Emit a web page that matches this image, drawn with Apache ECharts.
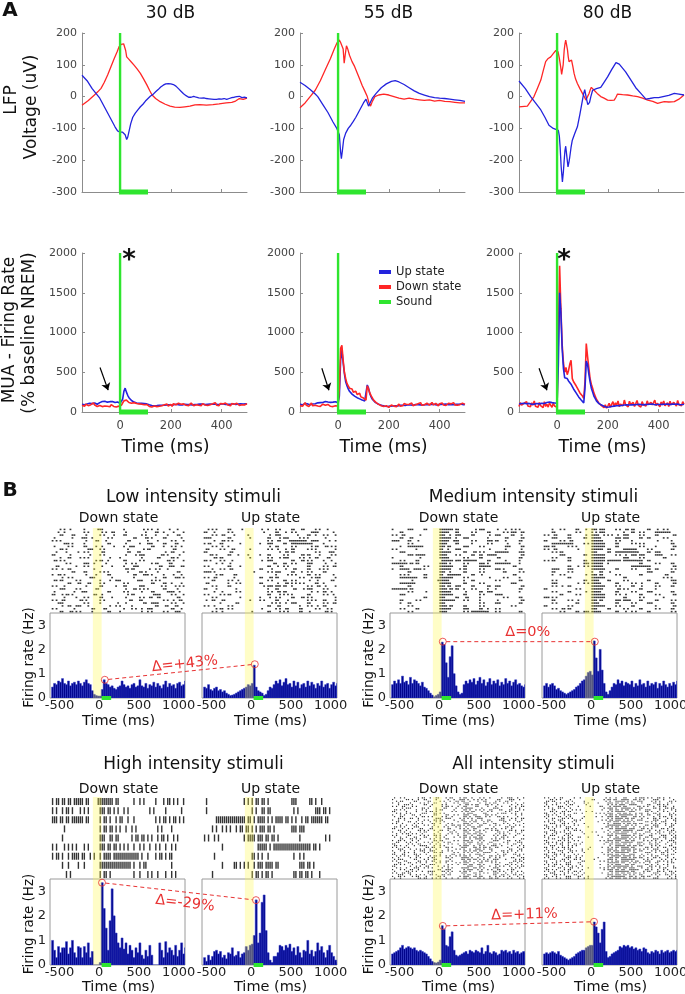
<!DOCTYPE html>
<html><head><meta charset="utf-8">
<script src="https://cdn.jsdelivr.net/npm/echarts@6/dist/echarts.min.js"></script>
<style>html,body{margin:0;padding:0;background:#fff}#c{width:685px;height:994px}</style>
</head><body><div id="c"></div><script>
// ---------- Panel A data ----------
const lfp30Up=[[-150,67],[-130,50],[-110,25],[-95,10],[-80,-5],[-60,-35],[-40,-65],[-20,-95],[-10,-108],[0,-112],[5,-113],[10,-112],[16,-110],[20,-120],[26,-135],[30,-128],[35,-110],[42,-85],[50,-65],[60,-52],[70,-42],[80,-32],[90,-24],[100,-14],[110,-6],[120,2],[130,7],[140,15],[150,22],[160,30],[170,36],[180,40],[190,41],[200,40],[210,38],[220,33],[230,25],[240,17],[250,9],[260,3],[270,-2],[280,-2],[290,1],[300,-2],[310,-4],[320,-5],[330,-4],[340,-6],[350,-7],[360,-8],[370,-9],[380,-9],[390,-7],[400,-8],[410,-6],[420,-9],[430,-6],[440,-3],[450,-2],[460,0],[470,1],[480,-3],[490,-2],[500,-4]];
const lfp30Down=[[-150,-27],[-125,-12],[-101,5],[-88,15],[-75,26],[-62,45],[-49,68],[-36,94],[-23,120],[-12,140],[-4,157],[4,164],[9,167],[14,166],[18,164],[22,145],[26,125],[30,120],[35,117],[45,108],[55,99],[67,87],[80,73],[93,55],[106,36],[116,20],[126,5],[140,-6],[158,-16],[178,-24],[197,-30],[215,-33],[236,-34],[255,-32],[275,-30],[295,-26],[314,-25],[340,-27],[366,-25],[390,-23],[418,-20],[440,-18],[455,-14],[470,-6],[485,-9],[500,-5]];
const lfp55Up=[[-150,45],[-130,35],[-110,22],[-90,8],[-80,0],[-60,-25],[-40,-50],[-20,-80],[-5,-100],[0,-103],[5,-120],[10,-175],[13,-195],[17,-170],[22,-135],[30,-115],[40,-100],[50,-90],[60,-78],[70,-65],[80,-50],[90,-35],[100,-20],[110,-8],[115,-12],[120,-30],[125,-25],[135,-5],[150,10],[170,28],[190,40],[210,48],[225,50],[240,46],[260,38],[280,28],[300,18],[320,10],[340,5],[360,0],[380,-3],[400,-5],[420,-6],[440,-8],[460,-10],[480,-12],[500,-15]];
const lfp55Down=[[-150,-35],[-130,-20],[-110,0],[-90,20],[-70,50],[-50,85],[-30,120],[-15,150],[-5,168],[0,172],[5,178],[10,170],[15,165],[20,150],[24,105],[28,130],[33,160],[38,150],[45,130],[55,110],[65,95],[75,75],[85,55],[95,35],[105,18],[115,0],[122,-20],[128,-30],[135,-15],[145,0],[160,5],[180,8],[200,5],[220,0],[240,-5],[260,-8],[280,-5],[300,-8],[320,-10],[340,-12],[360,-10],[380,-14],[400,-12],[420,-15],[440,-16],[460,-18],[480,-20],[500,-20]];
const lfp80Up=[[-150,49],[-125,25],[-104,0],[-85,-20],[-64,-42],[-48,-65],[-32,-90],[-15,-100],[-5,-103],[5,-106],[9,-125],[12,-158],[16,-220],[21,-268],[25,-235],[28,-200],[31,-170],[34,-156],[38,-185],[43,-221],[47,-205],[50,-190],[55,-160],[60,-137],[70,-115],[80,-95],[90,-55],[100,-11],[105,10],[109,22],[113,5],[117,-11],[121,-25],[124,-30],[128,-18],[133,0],[140,20],[155,25],[172,29],[185,45],[199,62],[215,85],[232,107],[245,102],[251,99],[270,78],[291,52],[310,28],[330,10],[350,-8],[365,-6],[383,-3],[400,-3],[422,1],[440,4],[462,10],[480,8],[500,5]];
const lfp80Down=[[-150,-32],[-117,-30],[-104,-15],[-91,0],[-78,25],[-64,52],[-55,80],[-45,110],[-35,120],[-25,125],[-15,135],[-5,145],[4,141],[9,120],[14,94],[18,70],[21,65],[24,100],[28,146],[31,165],[34,178],[37,165],[41,147],[44,125],[47,110],[52,112],[57,115],[62,95],[67,73],[73,55],[80,41],[90,25],[100,10],[107,0],[113,-11],[120,0],[126,10],[131,22],[135,29],[140,25],[146,20],[158,10],[172,0],[185,-5],[199,-11],[212,-12],[225,-11],[232,-2],[238,8],[258,6],[278,5],[298,2],[317,0],[337,-5],[357,-11],[377,-15],[396,-21],[410,-18],[422,-16],[440,-17],[462,-16],[480,-8],[500,5]];

// MUA: one value every 5 ms starting at -150 ms
const muaT0=-150, muaDt=5;
const mua30Up=[98,104,92,108,101,96,110,99,105,94, 112,103,97,108,118,126,132,121,135,128, 124,138,130,122,133,127,119,131,125,120,
 110,105,160,260,300,250,210,180,160,145, 130,125,118,112,115,108,104,110,100,106, 98,102,94,90,86,82,88,79,84,80,
 86,83,78,85,81,87,84,90,86,92, 88,85,91,94,89,96,92,88,95,90, 93,97,91,95,99,93,96,90,98,94,
 100,96,92,99,95,101,97,93,100,96, 94,99,103,97,95,100,98,94,101,97, 99,104,98,95,100,97,102,96,99,103,
 98,95,101,99,96,102,98,100,97,103, 99];
const mua30Down=[85,110,72,98,120,80,105,92,76,115, 88,100,70,95,82,95,68,90,75,100, 72,85,66,92,78,70,88,64,80,74,
 70,85,110,140,160,150,135,120,125,110, 105,118,95,108,90,102,85,98,80,92, 78,95,72,70,88,62,80,75,92,68,
 85,72,95,78,66,90,82,100,74,88, 96,70,105,84,92,78,110,86,98,75, 102,90,84,108,80,95,112,88,78,100,
 92,115,85,98,80,106,94,88,110,82, 100,92,76,104,96,118,86,94,80,108, 90,102,84,112,96,88,100,78,106,92,
 98,86,110,94,82,104,90,100,88,96, 106];
const mua55Up=[96,104,90,100,108,94,102,98,92,106, 100,95,103,110,115,122,118,128,120,125, 132,119,126,130,121,127,124,118,129,122,
 115,200,650,780,620,480,380,330,290,260, 240,225,215,200,190,180,170,165,160,150, 145,140,160,340,300,230,190,160,140,125,
 115,105,98,92,85,80,76,72,75,70, 78,74,80,76,72,79,83,77,81,85, 80,84,88,82,86,90,84,88,92,86,
 90,94,88,92,96,90,94,88,95,91, 97,93,89,96,92,98,94,90,97,93, 99,95,91,98,94,100,96,92,99,95,
 97,93,100,96,94,98,95,99,97,93, 96];
const mua55Down=[80,105,72,95,118,84,100,70,92,112, 78,98,86,104,76,92,70,88,98,74, 85,66,95,80,72,90,68,84,78,70,
 75,300,800,840,650,500,420,360,330,300, 280,290,250,235,260,220,210,235,190,200, 175,185,150,330,290,240,205,185,150,140,
 118,110,96,90,78,84,70,62,80,70, 58,76,88,66,74,92,68,84,100,72, 90,78,106,82,94,70,98,86,112,80,
 96,90,76,104,88,118,84,98,92,80, 110,94,86,102,120,90,84,108,96,78, 104,92,114,88,100,82,96,110,86,102,
 94,118,90,98,84,106,92,100,112,88, 96];
const mua80Up=[100,92,106,98,110,95,103,90,108,100, 96,112,99,104,108,115,102,118,110,122, 106,116,120,112,125,110,118,106,114,102,
 110,600,1500,1250,800,550,430,410,420,390, 375,350,320,290,265,240,215,190,170,150, 130,115,300,640,600,480,380,300,250,200,
 170,140,120,105,95,88,80,72,66,60, 58,62,66,70,68,74,72,78,76,80, 84,82,86,88,85,90,92,88,94,90,
 96,92,88,95,91,98,94,90,96,93, 99,95,92,98,94,100,96,92,99,95, 97,94,100,96,92,98,95,99,96,93,
 97,100,95,98,94,99,96,92,97,95, 98];
const mua80Down=[70,120,85,60,110,95,130,75,100,65, 115,88,140,72,95,60,120,80,105,55, 130,70,98,62,115,85,58,110,76,90,
 60,900,1840,1300,850,620,500,560,470,520, 600,650,420,380,400,330,300,280,240,220, 200,170,380,860,700,560,420,350,300,240,
 200,160,140,110,95,80,70,55,90,48, 75,110,60,95,130,70,115,85,140,68, 100,125,78,150,90,110,65,135,95,80,
 120,70,105,145,85,100,62,130,90,115, 75,140,95,70,120,88,105,150,80,110, 95,65,125,90,140,78,100,115,70,135,
 92,85,120,100,75,145,90,110,80,130, 95];

const soundLfp=[0,110];           // sound on / off (ms)
const arrowsMua=[[[-79,560],[-47,275]],[[-64,551],[-36,273]],[[-71,551],[-40,273]]];

// ---------- Panel B data ----------
const histStart=-600, histW=25;   // 25 ms bins
const bandRange=[-80,30];
const soundB=[30,150];
const histLowDown=[0.45,0.6,0.55,0.7,0.65,0.8,0.6,0.55,0.7,0.5,0.6,0.65,0.55,0.7,0.6,0.5,0.65,0.75,0.6,0.55,
 0.3,0.15,0.1,0.08, 0.08,0.35,0.75,0.6,
 0.55,0.45,0.5,0.4,0.35,0.45,0.5,0.7,0.55,0.45,0.5,0.4,0.55,0.6,0.45,0.5,0.75,0.5,0.45,0.6,0.4,0.55,0.5,0.65,0.45,0.6,0.5,0.4,0.55,0.7,0.45,0.6,0.5,0.55,0.4,0.6,0.65,0.5,0.55,0.7];
const histLowUp=[0.45,0.4,0.55,0.35,0.3,0.4,0.45,0.3,0.35,0.25,0.3,0.2,0.15,0.1,0.12,0.15,0.2,0.25,0.3,0.35,
 0.4,0.45,0.55,0.5, 0.6,1.35,0.45,0.3,
 0.25,0.2,0.1,0.15,0.3,0.45,0.4,0.55,0.7,0.6,0.75,0.5,0.65,0.8,0.55,0.6,0.45,0.7,0.5,0.65,0.4,0.55,0.6,0.45,0.7,0.5,0.65,0.55,0.4,0.6,0.5,0.7,0.45,0.55,0.6,0.4,0.55,0.65,0.5,0.6];
const histMedDown=[0.55,0.7,0.6,0.75,0.6,0.9,0.65,0.7,0.55,0.85,0.6,0.75,0.7,0.6,0.5,0.65,0.45,0.4,0.3,0.2,
 0.12,0.05,0.1,0.15, 0.25,2.3,2.2,1.45,0.85,1.7,2.15,1.0,0.5,0.25,0.15,0.2,
 0.55,0.7,0.6,0.75,0.65,0.8,0.55,0.7,0.85,0.6,0.75,0.5,0.65,0.8,0.55,0.7,0.6,0.75,0.5,0.65,0.55,0.8,0.6,0.7,0.5,0.65,0.75,0.55,0.6,0.5,0.45,0.55];
const histMedUp=[0.5,0.6,0.45,0.55,0.6,0.5,0.35,0.4,0.3,0.25,0.2,0.15,0.2,0.25,0.3,0.35,0.45,0.5,0.6,0.7,
 0.75,0.9,1.05,1.1, 0.95,2.35,1.65,1.1,2.0,1.15,0.6,0.25,0.15,0.3,
 0.45,0.6,0.55,0.75,0.6,0.7,0.5,0.65,0.6,0.55,0.7,0.45,0.6,0.5,0.75,0.55,0.6,0.45,0.7,0.5,0.6,0.55,0.65,0.4,0.6,0.5,0.7,0.55,0.45,0.6,0.5,0.65,0.55,0.7];
const histHighDown=[1.0,0.6,0.3,0.75,0.5,0.7,0.7,0.95,0.45,0.7,1.0,0.5,0.3,0.75,0.7,0.3,0.75,0.5,0.9,0.3,
 0.55,0,0,0, 0.1,3.35,2.3,1.5,0.6,1.8,3.1,2.0,1.3,0.9,0.7,1.1,
 0.65,0.9,0.45,0.8,0.6,0.3,0.7,0.5,0.9,0.4,0.25,0.6,0.35,0.8,0.4,0,0,0,0.9,0.6,0.3,0.95,0.5,0.7,0.6,0.4,0.8,0.35,0.6,0.9,0.45,0.7];
const histHighUp=[0.3,0.15,0.4,0.2,0.35,0.55,0.6,0.45,0.55,0.3,0.4,0.25,0.5,0.45,0.7,0.35,0.4,0.55,0.3,0.45,
 0.5,0.75,0.6,0.8, 0.85,1.2,2.65,0.9,1.3,2.55,2.85,1.4,0.5,0.2,0.1,0.35,
 0.35,0.5,0.8,0.75,0.6,0.8,0.7,0.85,0.55,0.7,0.4,0.75,0.5,0.3,0.6,0.55,1.0,0.45,0.6,0.35,0.55,0.9,0.6,0.75,0.5,0.3,0.6,0.8,0.5,0.35,0.2,0.1];
const histAllDown=[0.45,0.5,0.55,0.6,0.7,0.8,0.65,0.7,0.75,0.7,0.65,0.7,0.6,0.55,0.6,0.55,0.5,0.45,0.35,0.25,
 0.15,0.1,0.08,0.12, 0.2,1.6,1.45,0.8,0.75,1.15,1.35,0.6,0.4,0.35,0.4,0.45,
 0.5,0.55,0.45,0.6,0.55,0.5,0.6,0.55,0.5,0.7,0.45,0.55,0.8,0.5,0.45,0.55,0.5,0.4,0.45,0.6,0.55,0.6,0.5,0.55,0.45,0.6,0.5,0.55,0.45,0.5,0.55,0.5];
const histAllUp=[0.45,0.5,0.45,0.5,0.55,0.5,0.45,0.55,0.4,0.35,0.3,0.25,0.2,0.25,0.3,0.35,0.45,0.5,0.55,0.6,
 0.6,0.7,0.75,0.8, 0.8,1.75,1.55,1.3,0.9,1.45,1.75,0.55,0.3,0.35,0.45,0.5,
 0.55,0.6,0.75,0.7,0.8,0.75,0.8,0.7,0.75,0.65,0.7,0.6,0.65,0.55,0.7,0.65,0.5,0.45,0.55,0.5,0.6,0.55,0.45,0.6,0.5,0.55,0.6,0.5,0.55,0.6,0.55,0.6];

// peak markers [time ms, rate Hz] (down, up) and labels
const peakLow=[[70,0.75],[45,1.39]];
const peakMed=[[45,2.32],[45,2.32]];
const peakHigh=[[35,3.35],[60,2.64]];
const peakAll=[[45,1.59],[35,1.76]];
const deltaLabels=['Δ=+43%','Δ=0%','Δ=-29%','Δ=+11%'];

// rasters: one row per trial, each hex digit = 4 bins of 25 ms (from -600 ms)
const rasLowDown=["0a4081c00802a4110","1200a05304010c842","0c3040a10c0508219","4021c80a0061a0c04","a80043100300840a2","03a0800c0408e0c31","40a0c24109c0308a4","0d0038a00202c0060","2104a0600318004c2","c04010a0042e01a08","08c2a0042004060d1","6a0002c80c0a00342","0140e41004a02c180","3008a0420870031c6","a4c0040006c04a201","0030c0a8020d04018","9a00420c0063a0845","04a01c02004008c3a","6c0a0084e01c2a001","00c630a00a0030c84","a20040c08c0e0142a","0e0a0300046a80c10","4011c00c0a04303c8","c5a0064002c01e0a2","0208a0c2040a66018","a60340a0018c00a4c","1c00a08044033c0a2","04ce2004a0800c631","a0100c3008a4e00c4","0c6a080c2004a0a38"];
const rasLowUp=["2a0c10048a0c60a21","c40a00020c4a03c04","0a6102004e010c8a2","f00c0100c2e0a8040","046a0000a61ff3c12","b0c02008e0cffe080","0a4800004c0a02c6a","60a30100a44c0a803","c0060000026c00a1c","1a0c4208c0a06c20a","06c00100a2e0a4c30","d0a20004e00c6a088","0244000018ca0e042","a00c2000c4a00c0a6","08a6000c20460c2a1","f4000040ae0c4a0c0","02c18000082a0ca04","a601000c6c00a2e02","0c0a4000a0ca0440c","6008a00c046aa0c80","0a0c0002eec80a642","c20080008c062e0a0","0440a000a6c0024c8","a0ac0000c2a80c0a4","0a0020084a0c6a002","4c60010a0c200a8c2","0080c0002a4e0c0a6","a40a0000c6008a4c0","02ca00040a60c0a28","0a400080c2a0c4068"];
const rasMedDown=["80e0c0fec02e044a8","0c0000f8c0a0c0ae6","a60200e4e0c04e0c4","0c6000fc8e0080606","f0c400f9c0a0ec40c","00a000f0c080a0208","08ff00ec0e0a00706","a00800c8e00040404","0e0000fc0c6a0fe0e","00ef80f0a0ccf8006","800200f80a0c0600c","0a0c007eefe0c0408","ff6c00f40a0e8ff08","0c00a0fe0c0fc0060","8f9e80fc2c0a0e80c","00c000e40c0a00c0a","0a80c0cfe0c400060","0ff8c0fe0a0040a08","002001f808c00a00c","0ff000fc0c0a000e0","00c000ece0c0ce006","ff6000f6c8a08800c","00a040fc040ce0008","0e0000fe0c0a0f000","0000c0e0c60800a0c","0c0a00ff0a0804006","08c000e0000a0e00c","00a000f60c0a000a0","0a0c00fc0e0c8a000","00a000f00aff8a00c"];
const rasMedUp=["08a0c4ee0a6c0c4a0","0c00a0ae008ca0ff0","a60c04f2a4e0a0c06","0e0c0cf80ee0cc0a0","c0a600fc0a0800408","0ffe0afe0c0aa000c","ec0a80fe0c00a0806","a60040fcc0fe0a00c","0ac000e0cfff0ce00","00e00cfe0a4ee0f0a","0a0c00fe00e0a00c0","ac0c0cfefeffcc000","00000efc8000c0a0c","000c4afc000ffc006","0f0e00fe0c0a0cc0a","0c0a008c40000e00c","08a004ec0a00c0060","000c00fe00c0000a8","0a000cf0c0a00c00e","0e004af80c0a40c06","0a4c00fe0a0c40a0c","c000a0fc06a0c0800","0a0c04f80c0a0e00c","00c0a0fe0a40c0a06","ea0000fe00c0a0080","0c0a40ec0ef0c0c0a","0a00c0f00c0a0e00c","c00a00fe0a0c00806","0a6c00e0c0a0c0a0c","00a0cef80c4a0c00a"];
const rasHighDown=["b6df61fec04a08b52","a5a2a0ed4a0050405","edbf60b4b2400ad6a","020000b6a4a005080","040000e6c0b6a5a50","a2a8a0edaa4a4a4a0","b4bd94bdfff48b580","048480ffff4b00080","014000b40048a44a0"];
const rasHighUp=["40000ab6800e06900","400000a6c00500ed0","03fffb5eaf6a5bf60","0a54b6aed00ee0000","a5000bddb40080050","0040001f5ffffda00","040000d48004a0000","0041aa5dec00ed000","080000b5a006da200"];
const rasAllDown=["4a0593162c8a41392","81a4c2093a55061c8","2c1830a4d9130a681","9042a6114e0958a23","13a0c85026b1a4094","a628105a4c3089126","05c1a23097841c0a9","6a0942c10d2a6318a","c1085a0296c4a0531","2941c6a00b8305ca4","8a3206194e61a8025","4c09a8520d3946a10","1a64039c2a9c018a6","9204a6c118a4c3924","30c912a04d62a0c18","a4150c8a0e9318a42","0928a4136b0c4a129","6a1c0928a4d8106c3","c4a3180c2a61a9480","1906a4c90d4a2c1a6","8a42c1068e3906a24","25a9048a4b6c0a918","a0c2a6904c9a14c23","4918c2a12d6c09a41","0c6a1498093c2a806","9a2406c14e8a1c329","3148a92c0b9460a1c","c0a6128a4d1c9a264","6913c4a02e4a3908a","a2806c9a1c6b4c213","1c4a9208a93a6018c","8a139c4a0d6c21a94","4290a6c14a93c8a21","c61a4083293a04c6a","2a8c1694ad0c6a819","904a2c1a1e924a0c6","5c18a6041b6a9c42a","a3064c9a0d15a806c","18ca4290ae4c2a193","6a219c0a4d9a0c6a4","c04a6128038c4a916","291ca84a1e6a1c0a8","8a64019c0b94a62c1","41a93c6a2d0c1a894","a6c028141c6a9c4a2","1c4a9a6c0b2819a6c","9a2c41a02e6c4a913","4806ca924d1a6c28a"];
const rasAllUp=["a4c1200148c2ea691","1a8400c2d9e6a1c84","6c1a08014fa9c2a1a","c2a90a10ed6c41a29","4a160400ab9e0c6a1","a1c8410c5ec1a92c4","29a40002e9f4c1a6c","8c12a0046d6a9c28a","1a6c0480af9c1a4a3","c4a1902ae6d2c9a14","6a2c00016bfa4c61a","a1940824edc6a12c9","4c6a1000af6c49a2a","29c1a0056ea9c1c46","a4a28010ddf41a9c2","1c6908029eb6c2a4a","c2a14000fe6a19c4c","6a9c0201adc4a2c19","a41a80046fdc6a1a4","1c29a0008ef9c4a2c","c6a410a25dea1c69a","4a1c0800afc6a2a14","9c2a0010e9f4c61ca","a14c62044dea9a2c6","2c6a00009fd4a1c4a","c1a9400aee6c2a91c","6a4c1001adf9c4a26","a2c9a0026ed1a6c4a","1c4a80004fb6c2a19","c96a0104adec1a4c6","4a2c1200e9f6a9c2a","a1c69000ddb4c2a64","2c4a0804afe61c9a2","c6a14002ed9c4a1ac","6a2c9000bef4a2c61","a41ca0106dd6c9a24","1c69a040e9fc2a14a","c2a4180aadeb1c6a9","4a1c6000fd96a4c2c","a69c2008ae6c1a4a1","2c4a9000dfe9c6a24","c1a6420ab6dc4a2c6","6a2c1002ed9f1a4a1","a4c9a0006fec2c69a","1c2a4804adb6a1c4c","c6a19000eed4c2a6a","4a1c6200bf9a6c412","a29c4a016ed6a1c2a"];

// ---------- build ----------
const FONT='DejaVu Sans', GRAY='#8c8c8c';
const RED='#ff2626', BLUE='#2323dd', GREEN='#2fe52f', DRED='#e83232';
const plain=v=>String(v);
const grids=[], xAxis=[], yAxis=[], series=[], texts=[];
function addGrid(r, xa, ya, extra){
  const i=grids.length;
  grids.push(Object.assign({left:r[0], top:r[1], width:r[2], height:r[3], containLabel:false, outerBoundsMode:'none', show:false}, extra||{}));
  xAxis.push(Object.assign({gridIndex:i}, xa));
  yAxis.push(Object.assign({gridIndex:i}, ya));
  return i;
}
function txt(t, x, y, size, opt){
  opt=opt||{};
  texts.push({type:'text', x:x, y:y, rotation:opt.rot||0, z:50, silent:true,
    style:{text:t, fontSize:size, fontFamily:FONT, fontWeight:opt.bold?'bold':'normal', fill:opt.color||'#111', align:'center', verticalAlign:'middle'}});
}
function aX(labels){
  return {type:'value', min:-150, max:500,
    axisLine:{show:true, onZero:false, lineStyle:{color:GRAY, width:1}},
    axisTick:{show:true, inside:true, length:3, customValues:[0,200,400], lineStyle:{color:GRAY}},
    axisLabel:{show:labels, customValues:[0,200,400], formatter:plain, color:'#444', fontSize:11.5, fontFamily:FONT, margin:8},
    splitLine:{show:false}};
}
function aY(min,max,interval){
  return {type:'value', min:min, max:max, interval:interval,
    axisLine:{show:true, onZero:false, lineStyle:{color:GRAY, width:1}},
    axisTick:{show:true, inside:true, length:3, lineStyle:{color:GRAY}},
    axisLabel:{color:'#444', fontSize:11, fontFamily:FONT, margin:5, formatter:plain},
    splitLine:{show:false}};
}
function lineS(gi, name, data, color, width, z, extra){
  return Object.assign({type:'line', name:name, xAxisIndex:gi, yAxisIndex:gi, data:data, symbol:'none', showSymbol:false,
    lineStyle:{color:color, width:width}, itemStyle:{color:color}, z:z, silent:true, animation:false}, extra||{});
}
const aCols=[82,300,519], aW=165;
const lfpSets=[[lfp30Up,lfp30Down],[lfp55Up,lfp55Down],[lfp80Up,lfp80Down]];
const muaSets=[[mua30Up,mua30Down],[mua55Up,mua55Down],[mua80Up,mua80Down]];
const blueOnTop=[false,false,true];
const dbLabels=['30 dB','55 dB','80 dB'];
const toPairs=v=>v.map((y,i)=>[muaT0+i*muaDt,y]);
aCols.forEach((L,k)=>{
  const g=addGrid([L,33,aW,159], aX(false), aY(-300,200,100));
  series.push(lineS(g,'Down state',lfpSets[k][1],RED,1.3,3));
  series.push(lineS(g,'Up state',lfpSets[k][0],BLUE,1.3,3));
  series.push(lineS(g,'Sound',[[soundLfp[0],-300],[soundLfp[0],200]],GREEN,2.4,5));
  series.push(lineS(g,'Sound',[[soundLfp[0]-4,-300],[soundLfp[1],-300]],GREEN,5,5,{clip:false}));
  const m=addGrid([L,253,aW,159], aX(true), aY(0,2000,500));
  const up=lineS(m,'Up state',toPairs(muaSets[k][0]),BLUE,1.6,blueOnTop[k]?4:3,{
    markLine:{silent:true, animation:false, symbol:['none','arrow'], symbolSize:7, label:{show:false},
      lineStyle:{color:'#000', width:1.2, type:'solid'}, emphasis:{disabled:true},
      data:[[{coord:arrowsMua[k][0]},{coord:arrowsMua[k][1]}]]}});
  const dn=lineS(m,'Down state',toPairs(muaSets[k][1]),RED,1.6,blueOnTop[k]?3:4);
  series.push(up, dn);
  series.push(lineS(m,'Sound',[[soundLfp[0],0],[soundLfp[0],2000]],GREEN,2.4,5));
  series.push(lineS(m,'Sound',[[soundLfp[0]-4,0],[soundLfp[1],0]],GREEN,5,5,{clip:false}));
  txt(dbLabels[k], L+aW/2+6, 14, 17);
  txt('Time (ms)', L+aW/2+1, 447, 17.5);
});
txt('A', 10, 11, 20, {bold:true});
txt('LFP', 12, 100, 17, {rot:Math.PI/2});
txt('Voltage (uV)', 32, 107, 17, {rot:Math.PI/2});
txt('MUA - Firing Rate', 10, 330, 17, {rot:Math.PI/2});
txt('(% baseline NREM)', 30, 333, 17, {rot:Math.PI/2});
txt('*', 129, 261, 26, {bold:true});
txt('*', 564, 261, 26, {bold:true});

// Panel B
const bColsL=[[50,202],[390,542]], bW=135;
const bRows=[{rT:528,rH:85,hT:613,hH:85,title:498,sub:518,tick:1,time:721},{rT:797,rH:82,hT:879,hH:86,title:765,sub:789,tick:1,time:987}];
const groups=[
  {title:'Low intensity stimuli',col:0,row:0,hist:[histLowDown,histLowUp],ras:[rasLowDown,rasLowUp],mark:[1.8,1.5],peak:peakLow,off:[5,-8]},
  {title:'Medium intensity stimuli',col:1,row:0,hist:[histMedDown,histMedUp],ras:[rasMedDown,rasMedUp],mark:[1.8,1.5],peak:peakMed,off:[9,-9]},
  {title:'High intensity stimuli',col:0,row:1,hist:[histHighDown,histHighUp],ras:[rasHighDown,rasHighUp],mark:[1.4,7],peak:peakHigh,off:[6,12]},
  {title:'All intensity stimuli',col:1,row:1,hist:[histAllDown,histAllUp],ras:[rasAllDown,rasAllUp],mark:[1.2,1.2],peak:peakAll,off:[6,-9]}
];
function decodeRaster(rows){
  const pts=[];
  rows.forEach((s,r)=>{ for(let k=0;k<s.length;k++){ const v=parseInt(s[k],16); for(let b=0;b<4;b++){ if(v&(8>>b)) pts.push([histStart+(4*k+b)*histW+histW/2, r]); } } });
  return pts;
}
function bandS(gi){
  return {type:'custom', xAxisIndex:gi, yAxisIndex:gi, silent:true, animation:false, z:6, clip:false,
    data:[[bandRange[0],bandRange[1],0]], encode:{x:[0,1], y:2},
    renderItem:(p,api)=>{ const cs=p.coordSys; const a=api.coord([api.value(0),0]); const b=api.coord([api.value(1),0]);
      return {type:'rect', shape:{x:a[0], y:cs.y, width:b[0]-a[0], height:cs.height}, style:{fill:'rgba(255,250,70,0.3)'}}; }};
}
const deltas=[];
groups.forEach((G,gi)=>{
  const R=bRows[G.row], cols=bColsL[G.col];
  txt(G.title, (cols[0]+cols[1]+bW)/2, R.title, 17);
  const hIdx=[];
  ['Down state','Up state'].forEach((st,j)=>{
    const L=cols[j];
    txt(st, L+bW/2+1, R.sub, 14);
    const rasRows=G.ras[j];
    const rg=addGrid([L,R.rT,bW,R.rH],
      {type:'value', min:-620, max:1080, show:false},
      {type:'value', min:-0.5, max:rasRows.length-0.5, inverse:true, show:false});
    series.push({type:'scatter', xAxisIndex:rg, yAxisIndex:rg, data:decodeRaster(rasRows), symbol:'rect', symbolSize:G.mark,
      itemStyle:{color:'#000'}, z:3, silent:true, animation:false, clip:true});
    series.push(bandS(rg));
    const hg=addGrid([L,R.hT,bW,R.hH],
      {type:'value', min:-620, max:1080, axisLine:{show:false}, axisTick:{show:false}, splitLine:{show:false},
        axisLabel:{show:true, customValues:[-500,0,500,1000], formatter:plain, fontSize:13, color:'#222', fontFamily:FONT, margin:R.tick}},
      {type:'value', min:0, max:3.5, axisLine:{show:false}, axisTick:{show:false}, splitLine:{show:false},
        axisLabel:{show:j===0, customValues:[0,1,2,3], formatter:plain, fontSize:13, color:'#222', fontFamily:FONT, margin:4}},
      {show:true, borderColor:'#9a9a9a', borderWidth:1, backgroundColor:'rgba(0,0,0,0)'});
    hIdx.push(hg);
    const hist=G.hist[j];
    series.push({type:'custom', xAxisIndex:hg, yAxisIndex:hg, clip:true, silent:true, animation:false, z:2,
      data:hist.map((v,i)=>[histStart+i*histW, histStart+(i+1)*histW, v]), encode:{x:[0,1], y:2},
      renderItem:(p,api)=>{ const a=api.coord([api.value(0),api.value(2)]); const b=api.coord([api.value(1),0]);
        return {type:'rect', shape:{x:a[0], y:a[1], width:b[0]-a[0], height:b[1]-a[1]}, style:{fill:'#03068c', stroke:'#2b36c8', lineWidth:0.5}}; }});
    series.push(bandS(hg));
    series.push(lineS(hg,'Sound',[[soundB[0],0],[soundB[1],0]],GREEN,4,7,{clip:false}));
    series.push({type:'scatter', xAxisIndex:hg, yAxisIndex:hg, data:[G.peak[j]], symbol:'circle', symbolSize:7,
      itemStyle:{color:'rgba(255,255,255,0)', borderColor:DRED, borderWidth:1}, z:8, silent:true, animation:false});
    txt('Time (ms)', L+bW/2+1, R.time, 14.5);
  });
  txt('Firing rate (Hz)', cols[0]-21, R.hT+R.hH/2+2, 13.5, {rot:Math.PI/2});
  deltas.push({g0:hIdx[0], g1:hIdx[1], p0:G.peak[0], p1:G.peak[1], label:deltaLabels[gi], off:G.off});
});
txt('B', 10, 491, 20, {bold:true});

const chart=echarts.init(document.getElementById('c'), null, {renderer:'canvas', width:685, height:994});
chart.setOption({animation:false, backgroundColor:'#fff', grid:grids, xAxis:xAxis, yAxis:yAxis, series:series,
  legend:{data:['Up state','Down state','Sound'], orient:'vertical', left:374, top:261, icon:'rect', itemWidth:12, itemHeight:4,
    itemGap:3, selectedMode:false, textStyle:{fontSize:11.5, fontFamily:FONT, color:'#222'}}});
const extra=[];
deltas.forEach(d=>{
  const p0=chart.convertToPixel({gridIndex:d.g0}, d.p0);
  const p1=chart.convertToPixel({gridIndex:d.g1}, d.p1);
  const ang=Math.atan2(p1[1]-p0[1], p1[0]-p0[0]), r=3.5;
  extra.push({type:'line', silent:true, z:60, shape:{x1:p0[0]+r*Math.cos(ang), y1:p0[1]+r*Math.sin(ang), x2:p1[0]-r*Math.cos(ang), y2:p1[1]-r*Math.sin(ang)},
    style:{stroke:DRED, lineWidth:1, lineDash:[4,3]}});
  extra.push({type:'text', silent:true, z:60, x:(p0[0]+p1[0])/2+d.off[0], y:(p0[1]+p1[1])/2+d.off[1], rotation:-ang,
    style:{text:d.label, fill:DRED, fontSize:14.5, fontFamily:FONT, align:'center', verticalAlign:'middle'}});
});
chart.setOption({graphic:texts.concat(extra)});
</script></body></html>
